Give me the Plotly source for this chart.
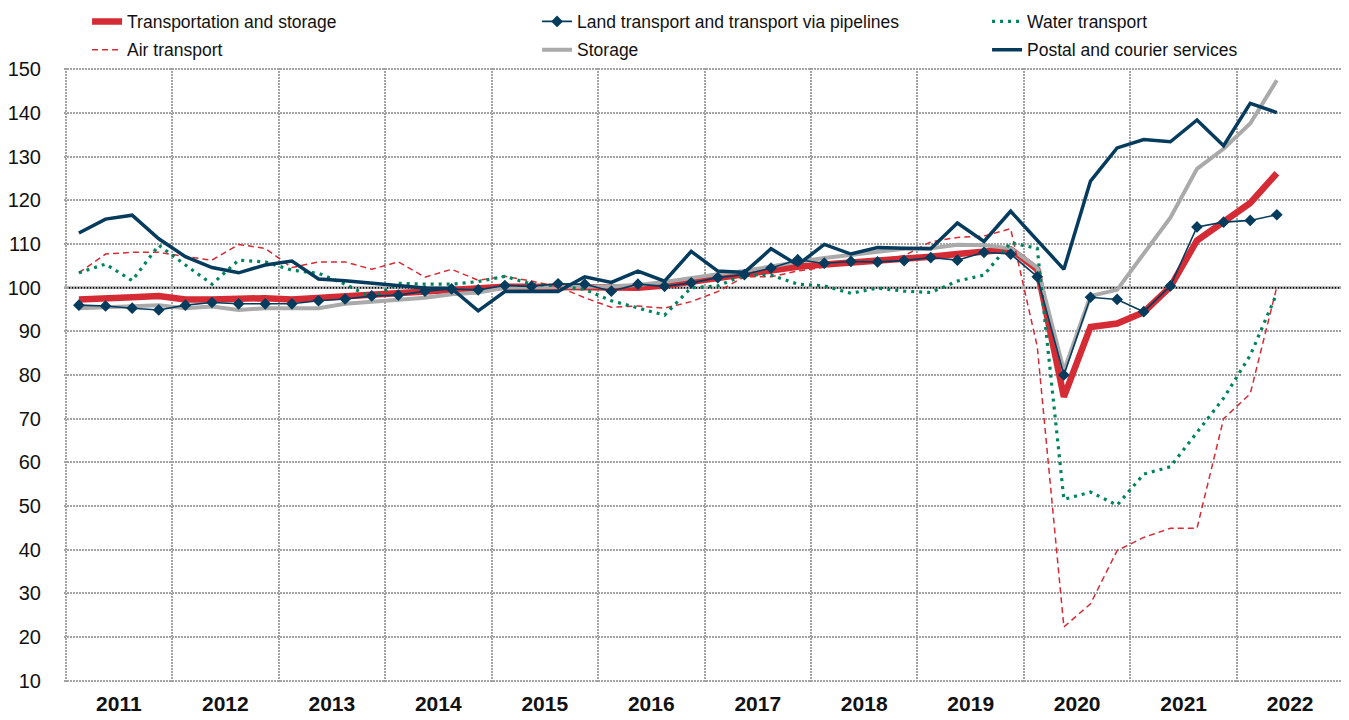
import plotly.graph_objects as go

# ---------------- data (index values, quarterly) ----------------
years = list(range(2011, 2023))
quarter_slots = [f"{y}-Q{q}" for y in years for q in range(1, 5)]
quarters = quarter_slots[:46]  # data available through 2022-Q2

transport_storage = [97.3, 97.7, 97.8, 98.1, 97.3, 97.3, 97.6, 97.6, 97.3, 97.7, 98.0, 98.5,
                     98.9, 99.3, 99.6, 100.0, 100.2, 100.2, 100.1, 100.1, 99.8, 100.0, 100.5, 101.4,
                     102.4, 103.0, 104.0, 104.8, 105.3, 105.7, 106.1, 106.6, 107.1, 107.7, 108.3, 108.8,
                     104.2, 75.0, 91.0, 91.8, 94.4, 100.2, 110.8, 115.2, 119.4, 126.2]
land_pipelines = [96.0, 95.8, 95.3, 94.9, 96.0, 96.6, 96.3, 96.3, 96.3, 97.0, 97.4, 98.1,
                  98.3, 99.2, 99.7, 99.5, 100.5, 100.3, 100.9, 100.8, 99.2, 100.8, 100.3, 101.1,
                  102.3, 103.0, 104.5, 106.4, 105.6, 106.0, 105.9, 106.2, 106.9, 106.3, 108.1, 107.7,
                  102.5, 80.0, 97.8, 97.3, 94.5, 100.4, 113.9, 115.0, 115.4, 116.7]
water = [103.4, 105.4, 101.6, 109.7, 105.2, 100.8, 106.3, 105.9, 104.0, 103.3, 100.8, 97.7,
         101.0, 100.8, 100.8, 101.4, 102.6, 100.8, 100.4, 99.6, 97.0, 95.3, 93.7, 100.0,
         100.4, 102.9, 102.9, 100.8, 100.4, 98.7, 99.9, 99.2, 98.9, 101.5, 102.9, 110.3,
         109.0, 51.5, 53.2, 50.2, 57.3, 59.0, 67.0, 74.7, 84.5, 98.7]
air = [103.4, 107.7, 108.1, 108.1, 107.1, 106.3, 109.9, 109.0, 104.6, 105.9, 105.9, 104.2,
       105.9, 102.4, 104.2, 101.7, 102.6, 101.5, 100.2, 97.7, 95.5, 95.8, 95.3, 96.8,
       99.1, 102.5, 102.5, 103.8, 104.7, 105.5, 106.4, 107.3, 110.5, 111.5, 111.8, 113.5,
       86.5, 22.3, 27.6, 39.8, 42.8, 44.9, 44.9, 70.0, 75.7, 100.2]
storage = [95.3, 95.5, 95.8, 96.0, 95.3, 95.7, 94.9, 95.3, 95.3, 95.3, 96.3, 96.8,
           97.2, 97.7, 98.5, 98.9, 100.0, 100.0, 100.0, 100.2, 100.3, 100.6, 101.3, 102.3,
           103.1, 103.8, 104.9, 105.9, 106.8, 107.5, 108.4, 108.9, 109.0, 109.8, 109.7, 109.0,
           104.6, 81.0, 98.1, 99.5, 107.8, 116.0, 127.2, 131.8, 137.6, 147.5]
postal = [112.5, 115.7, 116.6, 111.2, 107.1, 104.6, 103.4, 105.2, 106.1, 102.0, 101.6, 101.1,
          100.5, 99.9, 99.8, 94.7, 99.1, 99.1, 99.1, 102.5, 101.2, 103.8, 101.5, 108.3,
          103.8, 103.5, 108.9, 105.2, 109.9, 107.7, 109.2, 109.0, 108.9, 114.8, 110.6, 117.5,
          110.9, 104.2, 124.4, 132.0, 133.9, 133.4, 138.4, 132.5, 142.2, 140.1]

year_labels = [str(y) for y in years]
y_ticks = list(range(10, 151, 10))
baseline = 100

# ---------------- derived positions ----------------
x = [quarter_slots.index(q) for q in quarters]
year_centers = [sum(i for i, s in enumerate(quarter_slots) if s.startswith(str(y))) / 4 for y in years]

RED = "#D52B35"
NAVY = "#053B5C"
GREEN = "#00845E"
GREY = "#AAAAAA"
FONT = "Liberation Sans, Arial, sans-serif"
TXT = "#111111"

fig = go.Figure()

# draw order (bottom -> top)
fig.add_trace(go.Scatter(x=x, y=transport_storage, mode="lines", name="Transportation and storage",
                         line=dict(color=RED, width=6.5), legend="legend", legendrank=1,
                         legendwidth=405))
fig.add_trace(go.Scatter(x=x, y=storage, mode="lines", name="Storage",
                         line=dict(color=GREY, width=4), legend="legend2", legendrank=2,
                         legendwidth=405))
fig.add_trace(go.Scatter(x=x, y=air, mode="lines", name="Air transport",
                         line=dict(color=RED, width=1.5, dash="6px,4px"), legend="legend2",
                         legendrank=1, legendwidth=405))
fig.add_trace(go.Scatter(x=x, y=water, mode="lines", name="Water transport",
                         line=dict(color=GREEN, width=3.2, dash="3px,5px"), legend="legend",
                         legendrank=3, legendwidth=220))
fig.add_trace(go.Scatter(x=x, y=land_pipelines, mode="lines+markers",
                         name="Land transport and transport via pipelines",
                         line=dict(color=NAVY, width=1.6),
                         marker=dict(symbol="diamond", size=9, color=NAVY),
                         legend="legend", legendrank=2, legendwidth=405))
fig.add_trace(go.Scatter(x=x, y=postal, mode="lines", name="Postal and courier services",
                         line=dict(color=NAVY, width=3.5), legend="legend2", legendrank=3,
                         legendwidth=220))

fig.add_shape(type="line", xref="paper", x0=0, x1=1, yref="y", y0=baseline, y1=baseline,
              line=dict(color="#000000", width=2), layer="between")

grid_col = "#A3A3A3"
fig.update_layout(
    width=1349, height=720,
    margin=dict(l=56, r=12, t=60, b=46, autoexpand=False),
    paper_bgcolor="white", plot_bgcolor="white",
    font=dict(family=FONT, color=TXT),
    showlegend=True,
    legend=dict(orientation="h", x=0.018, xanchor="left", y=1.105, yanchor="top",
                font=dict(family=FONT, size=17.5, color=TXT), bgcolor="rgba(0,0,0,0)",
                borderwidth=0),
    legend2=dict(orientation="h", x=0.018, xanchor="left", y=1.059, yanchor="top",
                 font=dict(family=FONT, size=17.5, color=TXT), bgcolor="rgba(0,0,0,0)",
                 borderwidth=0),
    xaxis=dict(range=[-0.56, len(quarter_slots) - 0.44], tickmode="array",
               tickvals=year_centers, ticktext=year_labels, showgrid=False, zeroline=False,
               showline=False, ticks="", ticklabelstandoff=7,
               tickfont=dict(family=FONT, size=21, color=TXT, weight="bold"),
               minor=dict(tick0=-0.5, dtick=4, showgrid=True, gridcolor=grid_col,
                          griddash="2px,1px", gridwidth=1.5, ticks="")),
    yaxis=dict(range=[9.7, 150.3], tickmode="array", tickvals=y_ticks, showgrid=True,
               gridcolor=grid_col, griddash="2px,1px", gridwidth=1.5, zeroline=False,
               showline=False, ticks="", ticklabelstandoff=22,
               tickfont=dict(family=FONT, size=20, color=TXT)),
)

fig.write_html("out.html")
